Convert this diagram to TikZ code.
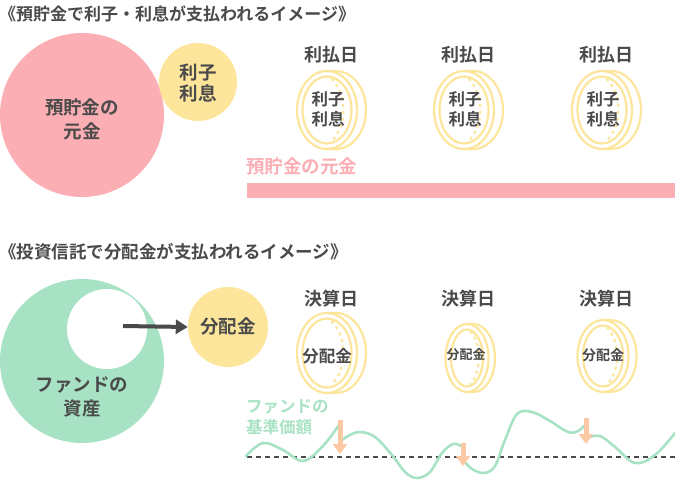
\documentclass[tikz,border=0pt]{standalone}
\usepackage{fontspec}
\setmainfont{Noto Sans CJK JP}[BoldFont={Noto Sans CJK JP Bold}]
\usetikzlibrary{arrows.meta}
\definecolor{pinkc}{HTML}{FBAEB3}
\definecolor{greenc}{HTML}{A8E2C4}
\definecolor{yellowc}{HTML}{FDE69C}
\definecolor{orangec}{HTML}{FDC8A4}
\definecolor{textc}{HTML}{4A4A4A}
\newcommand\mycoin[5]{%
  \begin{scope}[shift={(#1,#2)}]
    \fill[white] (0,-#4) -- (#5,-#4) arc[start angle=90,end angle=-90,x radius=#3pt,y radius=#4pt] -- (0,#4) arc[start angle=-90,end angle=-270,x radius=#3pt,y radius=#4pt] -- cycle;
    \draw[coinline] (0,-#4) -- (#5,-#4) arc[start angle=90,end angle=-90,x radius=#3pt,y radius=#4pt] -- (0,#4);
    \draw[coinline,dash pattern=on 3pt off 4pt] (#5*0.5,-#4*0.8) arc[start angle=53,end angle=-53,x radius=#3pt,y radius=#4pt];
    \draw[coinline] (0,0) ellipse[x radius=#3pt,y radius=#4pt];
    \draw[coinline] (0,0) ellipse[x radius=#3pt-5.5pt,y radius=#4pt-5.5pt];
  \end{scope}}
\begin{document}
\begin{tikzpicture}[x=1pt,y=-1pt,
  darktext/.style 2 args={text=textc,font=\bfseries\fontsize{#1}{#2}\selectfont,inner sep=0,align=center},
  coinline/.style={draw=yellowc,line width=2.2pt},
  wave/.style={draw=greenc,line width=2.6pt,line cap=round},
  divarrow/.style={draw=orangec,line width=5pt,-{Triangle[length=10pt,width=14pt]}},
  darkarrow/.style={draw=textc,line width=4pt,-{Triangle[length=12pt,width=14pt]}},
]
\useasboundingbox (0,0) rectangle (675,480);

% ---------- section 1 ----------
\node[darktext={17}{20},anchor=west] (title1) at (-1,14) {《預貯金で利子・利息が支払われるイメージ》};

\node[circle,fill=pinkc,minimum size=164pt,inner sep=0] (principal) at (82,115) {};
\node[darktext={18.5}{24}] (principaltext) at (82,119) {預貯金の\\元金};
\node[circle,fill=yellowc,minimum size=78pt,inner sep=0] (interest) at (198,82) {};
\node[darktext={18.5}{21.5}] (interesttext) at (198,83) {利子\\利息};

\node[darktext={18}{22}] (pay1) at (331,55) {利払日};
\node[darktext={18}{22}] (pay2) at (468,55) {利払日};
\node[darktext={18}{22}] (pay3) at (606,55) {利払日};

\mycoin{327}{110}{30}{39}{9}
\mycoin{464}{110}{30}{39}{9}
\mycoin{602}{110}{30}{39}{9}
\node[darktext={16.5}{20}] (c1) at (328,109) {利子\\利息};
\node[darktext={16.5}{20}] (c2) at (465,109) {利子\\利息};
\node[darktext={16.5}{20}] (c3) at (603,109) {利子\\利息};

\node[text=pinkc,font=\bfseries\fontsize{18.5}{22}\selectfont,inner sep=0,anchor=west] (barlabel) at (246,166) {預貯金の元金};
\fill[pinkc] (247,183) rectangle (675,198);

% ---------- section 2 ----------
\node[darktext={17.5}{20},anchor=west] (title2) at (-1,252) {《投資信託で分配金が支払われるイメージ》};

\node[circle,fill=greenc,minimum size=164pt,inner sep=0] (fund) at (82,361) {};
\node[circle,fill=white,minimum size=80pt,inner sep=0] (hole) at (107,329) {};
\node[darktext={18.5}{24}] (fundtext) at (82,397) {ファンドの\\資産};
\node[circle,fill=yellowc,minimum size=80pt,inner sep=0] (dist) at (228,327) {};
\node[darktext={18.5}{22}] (disttext) at (228,326) {分配金};
\coordinate (astart) at (123,326);
\draw[darkarrow] (astart) -- (dist.west);

\node[darktext={18}{22}] (set1) at (331,299) {決算日};
\node[darktext={18}{22}] (set2) at (468,299) {決算日};
\node[darktext={18}{22}] (set3) at (606,299) {決算日};

\mycoin{327}{353}{30}{40}{9}
\mycoin{467}{358}{21.5}{34}{6.5}
\mycoin{603}{356}{25.5}{36}{8}
\node[darktext={16.5}{20}] (d1) at (327,356) {分配金};
\node[darktext={13}{16}] (d2) at (466,355) {分配金};
\node[darktext={14}{17}] (d3) at (603,355) {分配金};

\node[text=greenc,font=\bfseries\fontsize{16.5}{21}\selectfont,inner sep=0,anchor=north west,align=left] (navlabel) at (246,399) {ファンドの\\基準価額};

\draw[textc,line width=1.5pt,dash pattern=on 5pt off 4pt] (247,457) -- (675,457);

\draw[wave] plot[smooth,tension=0.6] coordinates {(246,456) (263,443) (283,450) (303,461) (322,447) (339,425)};
\draw[wave] plot[smooth,tension=0.6] coordinates {(341,441) (348,436) (360,432) (375,437) (392,455) (405,472) (417,478) (430,472) (442,453) (453,444) (461,446)};
\draw[wave] plot[smooth,tension=0.6] coordinates {(464,461) (472,469) (484,473) (495,466) (505,440) (517,414) (532,412) (550,421) (568,432) (578,431) (586,424)};
\draw[wave] plot[smooth,tension=0.6] coordinates {(587,438) (600,436) (615,447) (635,463) (655,455) (675,433)};

\coordinate (a1s) at (340,420); \coordinate (a1e) at (340,454);
\coordinate (a2s) at (463,443); \coordinate (a2e) at (463,466);
\coordinate (a3s) at (586,418); \coordinate (a3e) at (586,444);
\draw[divarrow] (a1s) -- (a1e);
\draw[divarrow] (a2s) -- (a2e);
\draw[divarrow] (a3s) -- (a3e);
\end{tikzpicture}
\end{document}
